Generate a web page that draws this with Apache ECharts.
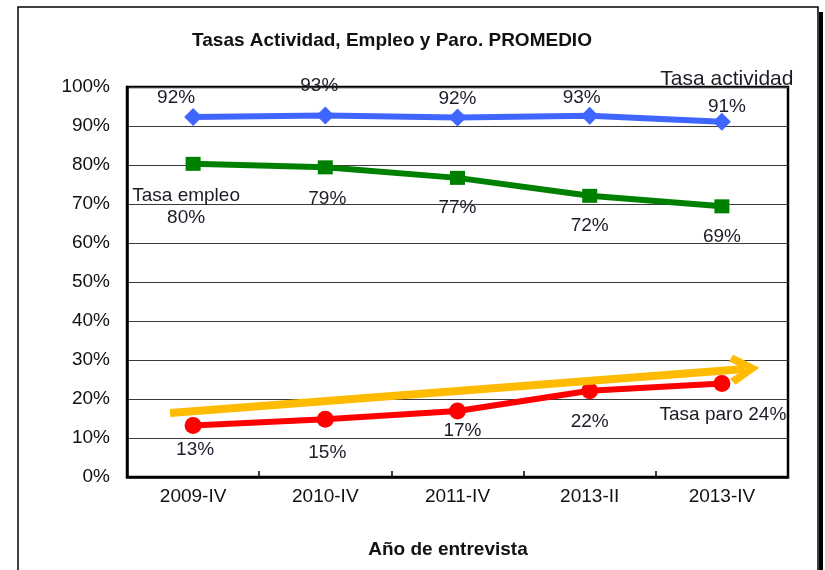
<!DOCTYPE html>
<html>
<head>
<meta charset="utf-8">
<script src="https://cdn.jsdelivr.net/npm/echarts@6/dist/echarts.min.js"></script>
<style>
  html, body { margin: 0; padding: 0; background: #fff; }
  #main { width: 825px; height: 570px; }
</style>
</head>
<body>
<div id="main"></div>
<script>
// categorias y valores
var categorias = ['2009-IV', '2010-IV', '2011-IV', '2013-II', '2013-IV'];
var tasaActividad = [92.3, 92.7, 92.2, 92.6, 91.1];
var tasaEmpleo = [80.3, 79.4, 76.7, 72.1, 69.4];
var tasaParo = [13.2, 14.8, 16.9, 22.1, 24.0];
// flecha de tendencia (indice de categoria, %)
var flechaX = [-0.175, 4.17];
var flechaY = [16.4, 27.7];

var FONT = '"Liberation Sans", Arial, sans-serif';
var TXT = '#1c1c28';

// desplazamientos de etiquetas
var offAct = [[-17, -19], [-6, -30], [0, -19], [-8, -18], [5, -29]];
var offEmp = [[-7, 43], [2, 31], [0, 30], [0, 30], [0, 30]];
var offPar = [[2, 24], [2, 33], [5, 20], [0, 31], [1, 31]];

function pct(v) { return Math.round(v) + '%'; }

function conEtiquetas(valores, offs) {
  return valores.map(function (v, i) {
    return { value: v, label: { offset: offs[i] } };
  });
}

var chart = echarts.init(document.getElementById('main'), null, { renderer: 'canvas' });

var etiqueta = {
  show: true,
  position: 'inside',
  color: TXT,
  fontFamily: FONT,
  fontSize: 19
};

var option = {
  animation: false,
  backgroundColor: '#fff',
  title: [{
    text: 'Tasas Actividad, Empleo y Paro. PROMEDIO',
    left: 387,
    top: 26,
    textAlign: 'center',
    textStyle: { fontFamily: FONT, fontSize: 19, fontWeight: 'bold', color: '#111' }
  }, {
    text: 'Año de entrevista',
    left: 443,
    top: 535,
    textAlign: 'center',
    textStyle: { fontFamily: FONT, fontSize: 19, fontWeight: 'bold', color: '#111' }
  }],
  graphic: [{
    type: 'rect',
    shape: { x: 18, y: 7, width: 800, height: 620 },
    style: { fill: 'none', stroke: '#000', lineWidth: 1.5 },
    silent: true
  }, {
    type: 'rect',
    shape: { x: 819, y: 12, width: 4, height: 620 },
    style: { fill: '#000' },
    silent: true
  }],
  grid: {
    left: 127, top: 87, width: 661, height: 390,
    show: true, borderColor: '#000', borderWidth: 2.5, backgroundColor: 'transparent'
  },
  xAxis: [{
    type: 'category',
    data: categorias,
    boundaryGap: true,
    axisLine: { lineStyle: { color: '#000', width: 2.5 } },
    axisTick: { show: true, inside: true, length: 6, lineStyle: { color: '#000', width: 1.5 } },
    axisLabel: { color: '#111', fontFamily: FONT, fontSize: 19, margin: 10 }
  }, {
    type: 'value',
    min: -0.5,
    max: 4.5,
    show: false
  }],
  yAxis: {
    type: 'value',
    min: 0,
    max: 100,
    interval: 10,
    axisLine: { show: true, onZero: false, lineStyle: { color: '#000', width: 2.5 } },
    axisTick: { show: false },
    axisLabel: { color: '#111', fontFamily: FONT, fontSize: 19, margin: 17, formatter: '{value}%' },
    splitLine: { lineStyle: { color: '#3a3a3a', width: 1.2 } }
  },
  series: [{
    name: 'Tasa actividad',
    type: 'line',
    data: conEtiquetas(tasaActividad, offAct),
    symbol: 'diamond',
    symbolSize: [18, 18],
    lineStyle: { color: '#3f66ff', width: 6 },
    itemStyle: { color: '#3f66ff' },
    label: Object.assign({}, etiqueta, {
      lineHeight: 28,
      formatter: function (p) {
        return p.dataIndex === 4 ? '{n|Tasa actividad}\n' + pct(p.value) : pct(p.value);
      },
      rich: { n: { fontFamily: FONT, fontSize: 21, color: TXT, lineHeight: 28 } }
    }),
    z: 3
  }, {
    name: 'Tasa empleo',
    type: 'line',
    data: conEtiquetas(tasaEmpleo, offEmp),
    symbol: 'rect',
    symbolSize: [15, 14],
    lineStyle: { color: '#008000', width: 6 },
    itemStyle: { color: '#008000' },
    label: Object.assign({}, etiqueta, {
      lineHeight: 22,
      formatter: function (p) {
        return p.dataIndex === 0 ? 'Tasa empleo\n' + pct(p.value) : pct(p.value);
      }
    }),
    z: 3
  }, {
    name: 'Tasa paro',
    type: 'line',
    data: conEtiquetas(tasaParo, offPar),
    symbol: 'circle',
    symbolSize: 17,
    lineStyle: { color: '#ff0000', width: 6 },
    itemStyle: { color: '#ff0000' },
    label: Object.assign({}, etiqueta, {
      formatter: function (p) {
        return p.dataIndex === 4 ? 'Tasa paro ' + pct(p.value) : pct(p.value);
      }
    }),
    z: 3
  }, {
    name: 'tendencia',
    type: 'line',
    xAxisIndex: 1,
    data: [[flechaX[0], flechaY[0]], [flechaX[1], flechaY[1]]],
    symbol: 'none',
    lineStyle: { opacity: 0 },
    silent: true,
    z: 4,
    markLine: {
      silent: true,
      animation: false,
      symbol: ['none', 'path://M14,0 L28,25 L22,30 L14,14 L6,30 L0,25 Z'],
      symbolSize: [30, 30],
      label: { show: false },
      lineStyle: { color: '#ffbb00', width: 8, type: 'solid' },
      data: [[
        { coord: [flechaX[0], flechaY[0]] },
        { coord: [flechaX[1], flechaY[1]] }
      ]]
    }
  }]
};

chart.setOption(option);
</script>
</body>
</html>
